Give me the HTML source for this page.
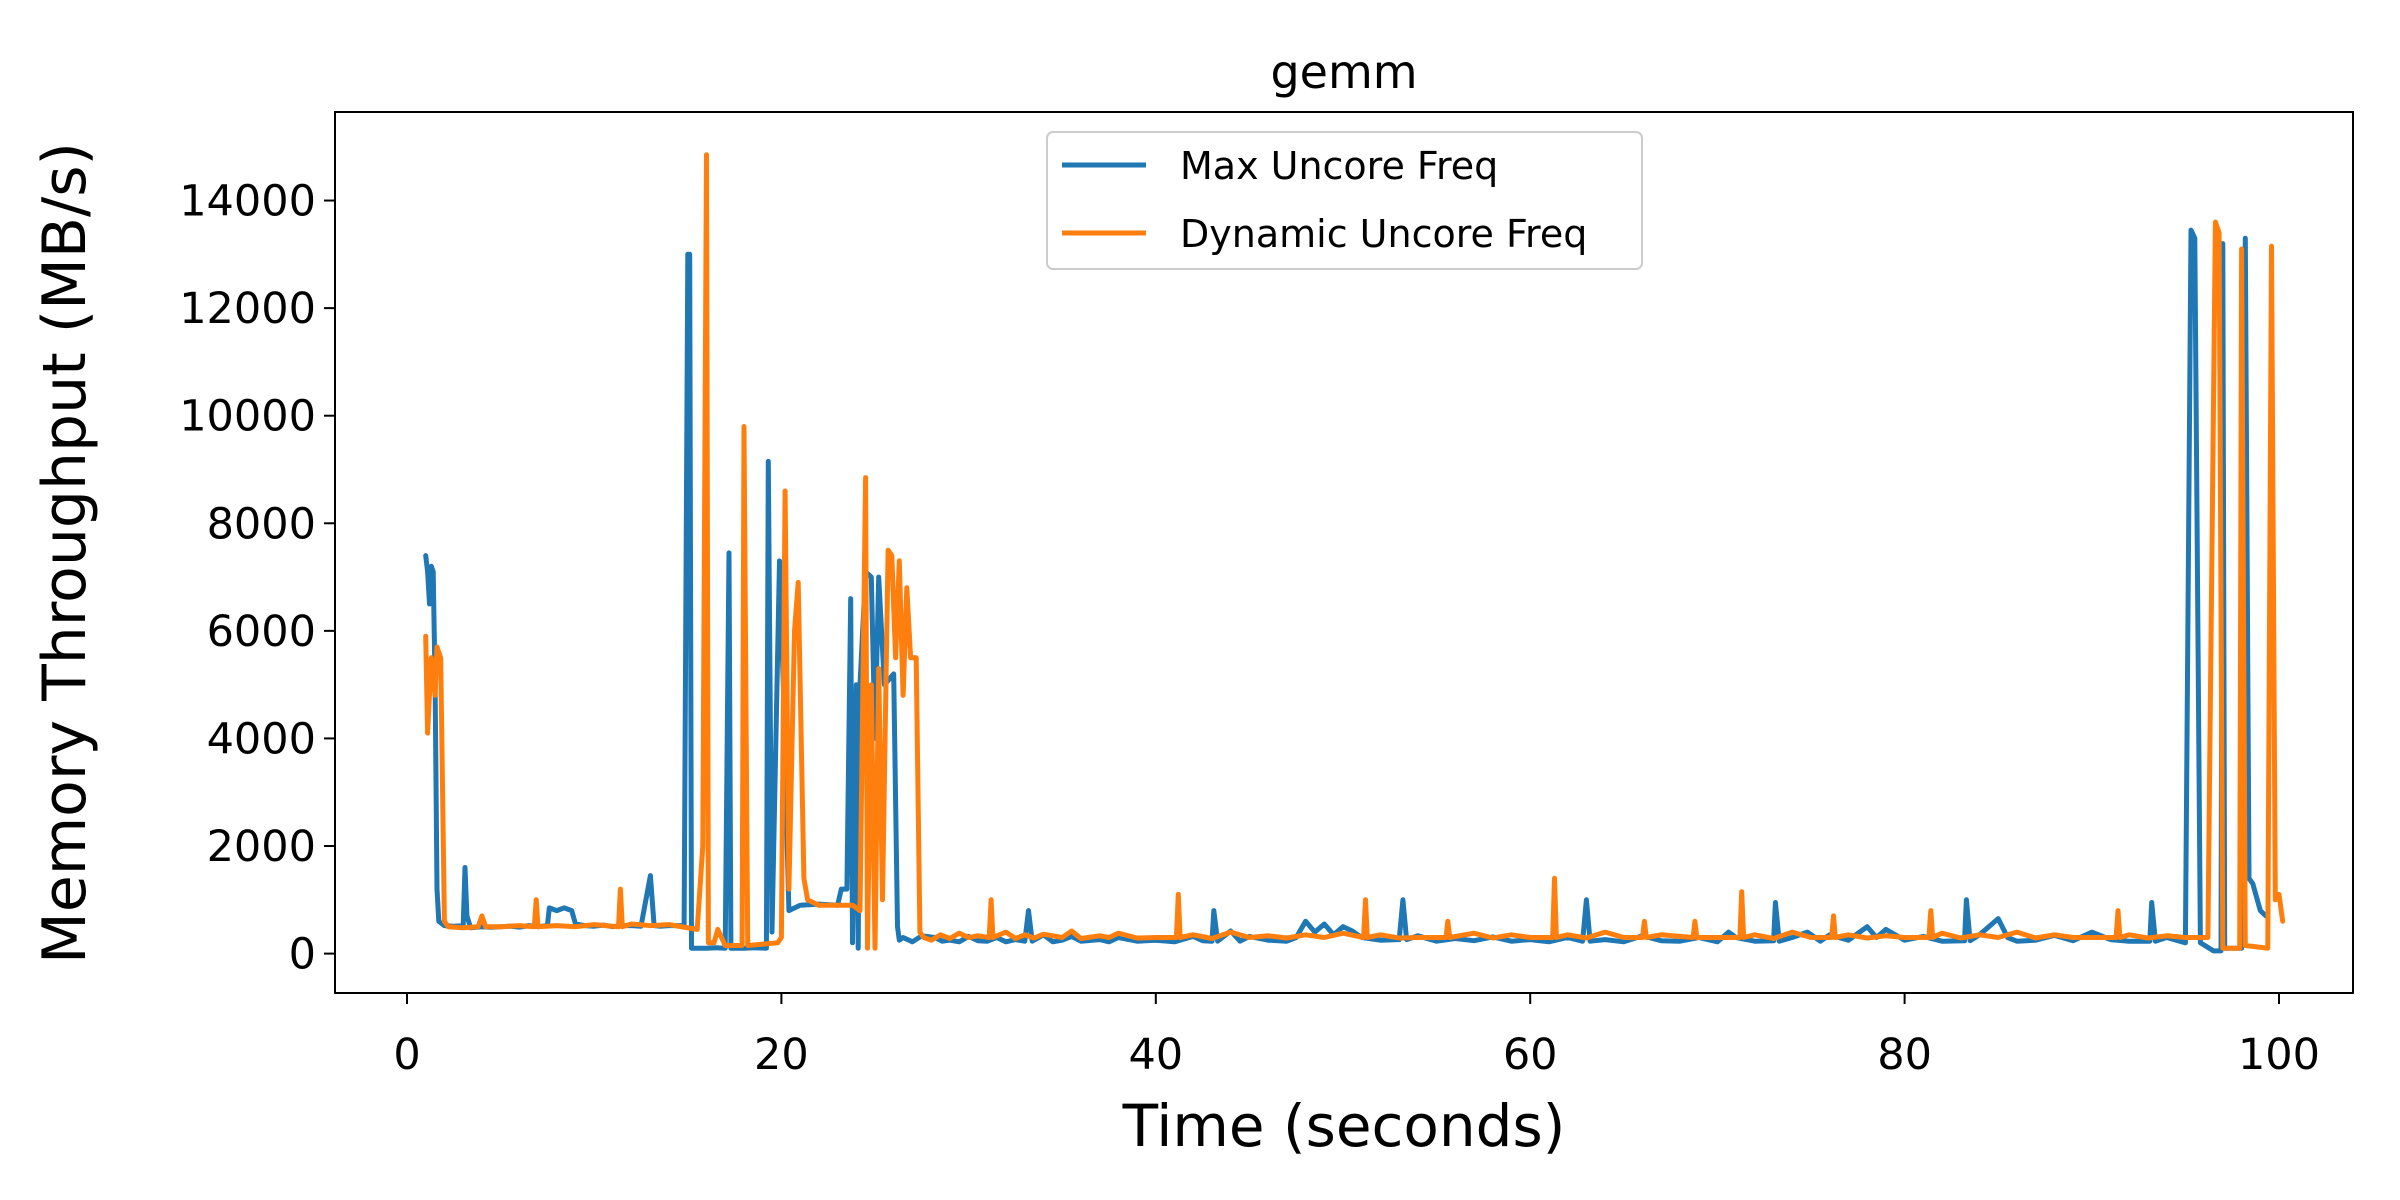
<!DOCTYPE html>
<html><head><meta charset="utf-8"><style>
html,body{margin:0;padding:0;background:#fff;}
svg{display:block;font-family:"DejaVu Sans","Liberation Sans",sans-serif;}
</style></head><body>
<svg id="chart" width="2400" height="1200" viewBox="0 0 2400 1200" xmlns="http://www.w3.org/2000/svg">
<rect width="2400" height="1200" fill="#fff"/>
<text x="1344" y="88" font-size="46" text-anchor="middle">gemm</text>
<g id="plot"></g>
<rect x="335" y="112" width="2018" height="881" fill="none" stroke="#000" stroke-width="2"/>
<g id="xt"></g>
<g id="yt"></g>
<text x="1344" y="1146" font-size="58" text-anchor="middle">Time (seconds)</text>
<text transform="translate(85,553) rotate(-90)" font-size="60" text-anchor="middle">Memory Throughput (MB/s)</text>
<g>
<rect x="1047" y="132" width="595" height="137" rx="6" fill="#fff" stroke="#ccc" stroke-width="2"/>
<line x1="1062" y1="165" x2="1146" y2="165" stroke="#1f77b4" stroke-width="5"/>
<text x="1180" y="179" font-size="38">Max Uncore Freq</text>
<line x1="1062" y1="233" x2="1146" y2="233" stroke="#ff7f0e" stroke-width="5"/>
<text x="1180" y="247" font-size="38">Dynamic Uncore Freq</text>
</g>
</svg>
<script>
const xTicks=[0,20,40,60,80,100];
const yTicks=[0,2000,4000,6000,8000,10000,12000,14000];
const maxSeries=[
[1.0,7400],[1.1,7100],[1.2,6500],[1.3,7200],[1.4,7100],[1.5,5000],[1.6,1200],[1.7,600],[2.0,520],[2.5,510],
[3.0,520],[3.1,1600],[3.2,700],[3.4,480],[4.0,500],[4.5,490],[5.0,500],[5.5,510],[6.0,490],[6.5,520],
[7.0,500],[7.5,520],[7.6,850],[8.0,800],[8.4,850],[8.8,800],[9.0,550],[9.5,520],[10,510],[10.5,530],
[11,500],[11.5,520],[12,520],[12.5,510],[13.0,1450],[13.2,520],[13.5,510],[14,520],[14.8,520],[15.0,13000],
[15.1,13000],[15.2,100],[16,100],[16.5,110],[17.0,100],[17.2,7450],[17.3,100],[18,100],[18.5,110],[19.2,100],
[19.3,9150],[19.5,400],[19.9,7300],[20.1,5000],[20.4,800],[21,900],[22,920],[23,900],[23.2,1200],[23.5,1200],
[23.7,6600],[23.8,200],[24.0,5000],[24.1,100],[24.2,5000],[24.5,7100],[24.8,7000],[25.0,4000],[25.2,7000],[25.5,5000],
[26.0,5200],[26.2,500],[26.3,250],[26.5,300],[27,220],[27.5,330],[28.2,300],[28.6,230],[29,250],[29.5,220],
[30,320],[30.5,240],[31,230],[31.5,300],[32,220],[32.5,260],[33.0,230],[33.2,800],[33.4,230],[34,350],
[34.5,220],[35,250],[35.5,320],[36,230],[37,260],[37.5,220],[38,300],[39,230],[40,250],[41,220],
[42,320],[42.5,240],[43.0,230],[43.1,800],[43.3,230],[44,420],[44.5,230],[45,320],[46,250],[47,230],
[47.5,300],[48,600],[48.5,400],[49,550],[49.5,350],[50,500],[50.5,420],[51,300],[52,250],[53.0,260],
[53.2,1000],[53.4,260],[54,330],[55,230],[56,280],[57,240],[58,310],[59,230],[60,260],[61,220],
[62,300],[62.8,230],[63,1000],[63.2,230],[64,260],[65,220],[66,330],[67,240],[68,230],[69,300],
[70,220],[70.6,400],[71,300],[72,230],[73.0,240],[73.1,950],[73.3,230],[74,300],[74.8,400],[75.5,230],
[76,350],[77,250],[78,500],[78.5,300],[79,450],[80,250],[81,320],[82,230],[83.2,240],[83.3,1000],
[83.5,240],[84,350],[85.0,650],[85.5,300],[86,230],[87,250],[88,340],[89,240],[90,400],[91,260],
[92,230],[93.1,230],[93.2,950],[93.4,230],[94,300],[95.0,200],[95.3,13450],[95.5,13300],[95.8,200],[96.5,50],
[96.9,50],[97.0,13200],[97.1,100],[98.0,100],[98.2,13300],[98.4,1400],[98.6,1300],[99.0,800],[99.3,700]
];
const dynSeries=[
[1.0,5900],[1.1,4100],[1.3,5500],[1.5,4800],[1.6,5700],[1.8,5500],[2.0,600],[2.2,500],[3.0,480],[3.8,500],
[4.0,700],[4.2,500],[5.0,500],[6.0,520],[6.8,500],[6.9,1000],[7.0,500],[8,520],[9,500],[10,540],
[11.3,500],[11.4,1200],[11.5,500],[12,550],[13,520],[14,540],[15.5,450],[15.8,2000],[16.0,14850],[16.1,200],
[16.4,200],[16.6,450],[17,150],[17.9,150],[18.0,9800],[18.2,150],[19.8,200],[20.0,300],[20.2,8600],[20.4,1200],
[20.7,6000],[20.9,6900],[21.2,1400],[21.4,1000],[22,900],[23.8,900],[24.2,800],[24.5,8850],[24.6,100],[24.8,5000],
[25.0,100],[25.2,5300],[25.4,1000],[25.7,7500],[25.9,7400],[26.1,5500],[26.3,7300],[26.5,4800],[26.7,6800],[26.9,5500],
[27.2,5500],[27.4,400],[27.6,300],[28,250],[28.5,350],[29,280],[29.5,380],[30,300],[30.5,330],[31.1,300],
[31.2,1000],[31.3,300],[32,400],[32.5,280],[33,350],[33.5,290],[34,360],[35,300],[35.5,420],[36,280],
[37,330],[37.5,300],[38,380],[39,290],[40,300],[41.1,300],[41.2,1100],[41.3,300],[42,350],[43,280],
[44,400],[45,300],[46,330],[47,290],[48,350],[49,300],[50,380],[51.1,300],[51.2,1000],[51.3,300],
[52,350],[53,290],[54,300],[55.5,300],[55.6,600],[55.7,300],[57,380],[58,290],[59,350],[60,300],
[61.2,300],[61.3,1400],[61.4,300],[62,350],[63,290],[64,400],[65,300],[66.0,300],[66.1,600],[66.2,300],
[67,350],[68.7,300],[68.8,600],[68.9,300],[70,300],[71.2,300],[71.3,1150],[71.4,300],[72,350],[73,280],
[74,400],[75,300],[76.1,300],[76.2,700],[76.3,300],[77,350],[78,290],[79,330],[80,300],[81.3,300],
[81.4,800],[81.5,300],[82,380],[83,290],[84,350],[85,300],[86,400],[87,290],[88,350],[89,300],
[90,300],[91.3,300],[91.4,800],[91.5,300],[92,350],[93,290],[94,330],[95,300],[96.2,300],[96.6,13600],
[96.8,13400],[97.0,100],[97.9,100],[98.0,13100],[98.2,150],[99.4,100],[99.6,13150],[99.8,1000],[100,1100],[100.2,600]
];
const X0=407,XS=18.72,Y0=953.6,YS=0.05379;
const xs=t=>X0+t*XS, ys=v=>Y0-v*YS;
const NS='http://www.w3.org/2000/svg';
function mk(tag,attrs,parent){const e=document.createElementNS(NS,tag);for(const k in attrs)e.setAttribute(k,attrs[k]);parent.appendChild(e);return e;}
const plot=document.getElementById('plot');
function series(S,color,name){
  const d=S.map((p,i)=>(i?'L':'M')+xs(p[0]).toFixed(1)+','+ys(p[1]).toFixed(1)).join('');
  const p=mk('path',{d:d,fill:'none',stroke:color,'stroke-width':5,'stroke-linejoin':'round','stroke-linecap':'round'},plot);
  
  
}
series(maxSeries,'#1f77b4','max-uncore-freq-line');
series(dynSeries,'#ff7f0e','dynamic-uncore-freq-line');
const xt=document.getElementById('xt'),yt=document.getElementById('yt');
xTicks.forEach(t=>{
  const x=xs(t);
  const l=mk('line',{x1:x,y1:993,x2:x,y2:1004,stroke:'#000','stroke-width':2},xt);
  
  
  const s=mk('text',{x:x,y:1069,'font-size':43,'text-anchor':'middle'},xt);
  s.textContent=t;
  
  
});
yTicks.forEach(v=>{
  const y=ys(v);
  const l=mk('line',{x1:324,y1:y,x2:335,y2:y,stroke:'#000','stroke-width':2},yt);
  
  
  const s=mk('text',{x:316,y:y+15,'font-size':43,'text-anchor':'end'},yt);
  s.textContent=v;
  
  
});
</script>
</body></html>
